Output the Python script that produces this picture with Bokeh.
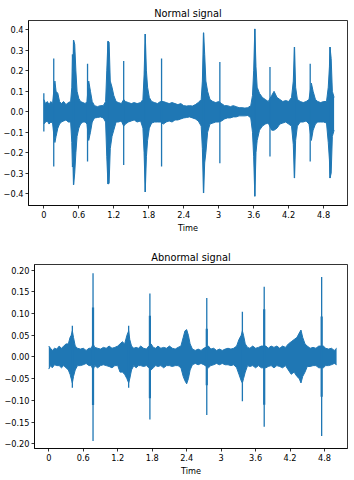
from bokeh.plotting import figure
from bokeh.models import FixedTicker, Range1d
from bokeh.embed import file_html
from bokeh.resources import INLINE

BLUE = "#1f77b4"

# ---------------- Normal signal (envelope) ----------------
normal_t = [0.00, 0.03, 0.06, 0.09, 0.12, 0.15, 0.17, 0.19, 0.21, 0.24, 0.27, 0.30, 0.34, 0.38, 0.42, 0.46,
            0.48, 0.49, 0.50, 0.51, 0.53, 0.55, 0.57, 0.60, 0.63, 0.67, 0.71, 0.74, 0.77, 0.80, 0.83, 0.87,
            0.92, 0.97, 1.02, 1.06, 1.08, 1.10, 1.12, 1.14, 1.17, 1.20, 1.24, 1.28, 1.33, 1.37, 1.40, 1.45,
            1.50, 1.55, 1.60, 1.66, 1.70, 1.72, 1.74, 1.76, 1.78, 1.81, 1.85, 1.90, 1.95, 2.00, 2.05, 2.10,
            2.15, 2.20, 2.25, 2.30, 2.35, 2.40, 2.45, 2.50, 2.55, 2.60, 2.65, 2.70, 2.72, 2.74, 2.76, 2.78,
            2.81, 2.85, 2.90, 2.95, 3.00, 3.05, 3.10, 3.15, 3.20, 3.25, 3.30, 3.35, 3.40, 3.45, 3.50, 3.55,
            3.58, 3.60, 3.62, 3.64, 3.66, 3.70, 3.75, 3.80, 3.85, 3.91, 3.95, 4.00, 4.05, 4.10, 4.15, 4.20,
            4.25, 4.28, 4.30, 4.32, 4.35, 4.40, 4.45, 4.50, 4.55, 4.59, 4.62, 4.66, 4.70, 4.75, 4.80, 4.85,
            4.88, 4.90, 4.91, 4.93, 4.95, 4.98]
normal_up = [0.06, 0.04, 0.05, 0.035, 0.05, 0.04, 0.10, 0.15, 0.10, 0.09, 0.05, 0.04, 0.05, 0.035, 0.045, 0.05,
             0.12, 0.28, 0.20, 0.35, 0.33, 0.20, 0.10, 0.065, 0.05, 0.045, 0.04, 0.05, 0.15, 0.10, 0.05, 0.03,
             0.025, 0.03, 0.03, 0.05, 0.20, 0.345, 0.34, 0.15, 0.12, 0.08, 0.05, 0.045, 0.04, 0.06, 0.05, 0.045,
             0.04, 0.045, 0.04, 0.045, 0.06, 0.18, 0.38, 0.20, 0.12, 0.07, 0.05, 0.045, 0.04, 0.05, 0.05, 0.045,
             0.04, 0.045, 0.04, 0.035, 0.04, 0.03, 0.028, 0.03, 0.028, 0.035, 0.045, 0.06, 0.15, 0.386, 0.28, 0.15,
             0.10, 0.06, 0.05, 0.045, 0.05, 0.04, 0.03, 0.03, 0.025, 0.03, 0.025, 0.02, 0.02, 0.018, 0.02, 0.03,
             0.08, 0.20, 0.405, 0.22, 0.12, 0.09, 0.07, 0.06, 0.05, 0.08, 0.10, 0.07, 0.06, 0.05, 0.055, 0.05,
             0.07, 0.15, 0.316, 0.12, 0.06, 0.05, 0.045, 0.05, 0.06, 0.14, 0.10, 0.06, 0.05, 0.045, 0.05, 0.05,
             0.12, 0.22, 0.316, 0.26, 0.10, 0.07]
normal_lo = [-0.06, -0.05, -0.045, -0.06, -0.05, -0.055, -0.11, -0.15, -0.12, -0.08, -0.06, -0.05, -0.045, -0.04, -0.05, -0.05,
             -0.15, -0.27, -0.25, -0.356, -0.30, -0.20, -0.12, -0.08, -0.06, -0.05, -0.05, -0.06, -0.14, -0.10, -0.05, -0.03,
             -0.028, -0.025, -0.03, -0.05, -0.22, -0.353, -0.35, -0.18, -0.12, -0.09, -0.05, -0.05, -0.045, -0.07, -0.06, -0.05,
             -0.045, -0.04, -0.05, -0.045, -0.08, -0.20, -0.392, -0.22, -0.14, -0.08, -0.055, -0.05, -0.05, -0.05, -0.06, -0.05,
             -0.045, -0.05, -0.04, -0.04, -0.035, -0.03, -0.028, -0.025, -0.03, -0.035, -0.045, -0.07, -0.18, -0.397, -0.25, -0.20,
             -0.10, -0.06, -0.055, -0.05, -0.05, -0.045, -0.035, -0.03, -0.03, -0.025, -0.025, -0.02, -0.02, -0.02, -0.018, -0.03,
             -0.10, -0.22, -0.413, -0.20, -0.14, -0.09, -0.07, -0.06, -0.055, -0.09, -0.09, -0.08, -0.06, -0.055, -0.05, -0.06,
             -0.07, -0.16, -0.324, -0.14, -0.07, -0.05, -0.05, -0.045, -0.06, -0.14, -0.09, -0.06, -0.05, -0.05, -0.05, -0.055,
             -0.15, -0.235, -0.324, -0.30, -0.12, -0.09]
normal_spike_t = [0.00, 0.17, 0.51, 0.75, 1.10, 1.37, 1.74, 2.02, 2.74, 3.02, 3.62, 3.88, 4.30, 4.57, 4.91]
normal_spike_top = [0.09, 0.26, 0.35, 0.235, 0.345, 0.248, 0.38, 0.26, 0.386, 0.243, 0.405, 0.219, 0.316, 0.235, 0.316]
normal_spike_bot = [-0.097, -0.267, -0.356, -0.243, -0.353, -0.26, -0.392, -0.267, -0.397, -0.251, -0.413, -0.219, -0.324, -0.243, -0.324]

# ---------------- Abnormal signal ----------------
abn_t = [0.00, 0.03, 0.06, 0.10, 0.14, 0.18, 0.22, 0.26, 0.30, 0.34, 0.37, 0.39, 0.41, 0.43, 0.46, 0.50,
         0.55, 0.60, 0.65, 0.70, 0.74, 0.77, 0.80, 0.85, 0.90, 0.95, 1.00, 1.05, 1.10, 1.15, 1.20, 1.24,
         1.28, 1.32, 1.36, 1.39, 1.41, 1.44, 1.48, 1.52, 1.56, 1.60, 1.65, 1.70, 1.74, 1.78, 1.82, 1.86,
         1.90, 1.95, 2.00, 2.05, 2.10, 2.15, 2.20, 2.25, 2.30, 2.34, 2.37, 2.40, 2.43, 2.46, 2.50, 2.55,
         2.60, 2.65, 2.70, 2.78, 2.82, 2.87, 2.92, 2.97, 3.02, 3.07, 3.12, 3.17, 3.22, 3.27, 3.31, 3.35,
         3.37, 3.39, 3.42, 3.46, 3.50, 3.55, 3.60, 3.65, 3.70, 3.78, 3.82, 3.87, 3.92, 3.97, 4.02, 4.07,
         4.12, 4.17, 4.22, 4.27, 4.32, 4.36, 4.39, 4.42, 4.46, 4.50, 4.55, 4.60, 4.65, 4.70, 4.78, 4.82,
         4.87, 4.92, 4.97, 5.01]
abn_up = [0.025, 0.02, 0.015, 0.02, 0.018, 0.025, 0.02, 0.025, 0.03, 0.03, 0.045, 0.05, 0.06, 0.045, 0.025, 0.02,
          0.018, 0.02, 0.015, 0.02, 0.02, 0.03, 0.022, 0.02, 0.018, 0.022, 0.02, 0.025, 0.02, 0.022, 0.025, 0.03,
          0.035, 0.03, 0.05, 0.06, 0.04, 0.025, 0.02, 0.022, 0.02, 0.025, 0.02, 0.018, 0.025, 0.03, 0.022, 0.02,
          0.025, 0.02, 0.022, 0.02, 0.025, 0.02, 0.018, 0.022, 0.025, 0.045, 0.06, 0.063, 0.05, 0.03, 0.018, 0.015,
          0.018, 0.015, 0.02, 0.025, 0.018, 0.02, 0.015, 0.018, 0.015, 0.018, 0.02, 0.018, 0.02, 0.025, 0.04, 0.05,
          0.06, 0.05, 0.03, 0.022, 0.02, 0.025, 0.02, 0.022, 0.025, 0.025, 0.02, 0.025, 0.022, 0.025, 0.02, 0.025,
          0.022, 0.03, 0.035, 0.04, 0.045, 0.055, 0.062, 0.045, 0.03, 0.025, 0.02, 0.022, 0.02, 0.025, 0.025, 0.02,
          0.018, 0.02, 0.015, 0.02]
abn_lo = [-0.028, -0.02, -0.025, -0.018, -0.02, -0.02, -0.025, -0.02, -0.025, -0.03, -0.04, -0.05, -0.06, -0.045, -0.03, -0.02,
          -0.02, -0.018, -0.015, -0.02, -0.02, -0.03, -0.02, -0.025, -0.02, -0.018, -0.02, -0.022, -0.025, -0.02, -0.02, -0.035,
          -0.035, -0.04, -0.05, -0.06, -0.05, -0.03, -0.02, -0.025, -0.02, -0.02, -0.022, -0.02, -0.025, -0.03, -0.025, -0.02,
          -0.022, -0.02, -0.025, -0.02, -0.02, -0.022, -0.02, -0.02, -0.025, -0.045, -0.055, -0.062, -0.05, -0.03, -0.018, -0.015,
          -0.018, -0.015, -0.018, -0.025, -0.02, -0.018, -0.015, -0.018, -0.015, -0.018, -0.018, -0.02, -0.018, -0.025, -0.04, -0.055,
          -0.06, -0.05, -0.035, -0.02, -0.022, -0.02, -0.025, -0.02, -0.025, -0.025, -0.022, -0.02, -0.025, -0.02, -0.022, -0.025,
          -0.02, -0.03, -0.04, -0.035, -0.045, -0.05, -0.06, -0.045, -0.035, -0.022, -0.022, -0.02, -0.02, -0.025, -0.025, -0.02,
          -0.02, -0.018, -0.015, -0.018]
abn_spike_t = [0.41, 0.77, 1.39, 1.76, 2.75, 3.37, 3.75, 4.75]
abn_spike_top = [0.072, 0.193, 0.072, 0.146, 0.136, 0.104, 0.162, 0.184]
abn_spike_bot = [-0.071, -0.194, -0.071, -0.144, -0.134, -0.102, -0.161, -0.182]
abn_core_t = [0.77, 1.76, 2.75, 3.75, 4.75]
abn_core_top = [0.114, 0.095, 0.065, 0.11, 0.093]
abn_core_bot = [-0.111, -0.095, -0.065, -0.11, -0.092]

# ---------------- ticks ----------------
x_ticks = [0, 0.6, 1.2, 1.8, 2.4, 3, 3.6, 4.2, 4.8]
x_labels = ["0", "0.6", "1.2", "1.8", "2.4", "3", "3.6", "4.2", "4.8"]
normal_y_ticks = [-0.4, -0.3, -0.2, -0.1, 0, 0.1, 0.2, 0.3, 0.4]
normal_y_labels = ["\u22120.4", "\u22120.3", "\u22120.2", "\u22120.1", "0.0", "0.1", "0.2", "0.3", "0.4"]
abn_y_ticks = [-0.2, -0.15, -0.1, -0.05, 0, 0.05, 0.1, 0.15, 0.2]
abn_y_labels = ["\u22120.20", "\u22120.15", "\u22120.10", "\u22120.05", "0.00", "0.05", "0.10", "0.15", "0.20"]

FONT = "DejaVu Sans"


def make(title, t, up, lo, st, stop, sbot, ct, ctop, cbot, yt, yl, xr, yr, h, left, top):
    p = figure(width=352, height=h, output_backend="svg", toolbar_location=None,
               x_range=Range1d(*xr), y_range=Range1d(*yr),
               min_border_left=left, min_border_right=5, min_border_top=top,
               min_border_bottom=29)
    p.title.text = title
    p.title.align = "center"
    p.title.text_font = FONT
    p.title.text_font_size = "9.8px"
    p.title.text_font_style = "normal"
    p.title.text_color = "black"
    p.title.standoff = 3
    p.grid.visible = False
    p.outline_line_color = "black"
    p.outline_line_width = 0.8
    p.outline_line_alpha = 1
    p.varea(x=t, y1=lo, y2=up, fill_color=BLUE)
    p.line(x=t, y=up, line_color=BLUE, line_width=1)
    p.line(x=t, y=lo, line_color=BLUE, line_width=1)
    p.segment(x0=st, y0=sbot, x1=st, y1=stop, line_color=BLUE, line_width=1.3)
    if ct:
        p.segment(x0=ct, y0=cbot, x1=ct, y1=ctop, line_color=BLUE, line_width=2.2)
    for ax in (p.xaxis[0], p.yaxis[0]):
        ax.axis_line_color = "black"
        ax.axis_line_width = 0.8
        ax.major_tick_line_color = "black"
        ax.major_tick_line_width = 0.8
        ax.major_tick_out = 3
        ax.major_tick_in = 0
        ax.minor_tick_out = 0
        ax.minor_tick_in = 0
        ax.major_label_text_font = FONT
        ax.major_label_text_font_size = "8.2px"
        ax.major_label_text_color = "black"
        ax.major_label_standoff = 2
    p.xaxis[0].ticker = FixedTicker(ticks=x_ticks)
    p.xaxis[0].major_label_overrides = dict(zip(x_ticks, x_labels))
    p.xaxis[0].axis_label = "Time"
    p.xaxis[0].axis_label_text_font = FONT
    p.xaxis[0].axis_label_text_font_size = "8.2px"
    p.xaxis[0].axis_label_text_font_style = "normal"
    p.xaxis[0].axis_label_text_color = "black"
    p.xaxis[0].axis_label_standoff = 2
    p.yaxis[0].ticker = FixedTicker(ticks=yt)
    p.yaxis[0].major_label_overrides = dict(zip(yt, yl))
    return p


p1 = make("Normal signal", normal_t, normal_up, normal_lo,
          normal_spike_t, normal_spike_top, normal_spike_bot, [], [], [],
          normal_y_ticks, normal_y_labels, (-0.263, 5.21), (-0.458, 0.446), 235, 27, 20)
p2 = make("Abnormal signal", abn_t, abn_up, abn_lo,
          abn_spike_t, abn_spike_top, abn_spike_bot, abn_core_t, abn_core_top, abn_core_bot,
          abn_y_ticks, abn_y_labels, (-0.249, 5.2), (-0.211, 0.213), 243, 34, 29)

# two separate roots so that each figure keeps its own frame position
open("out.html", "w").write(file_html([p1, p2], INLINE))
